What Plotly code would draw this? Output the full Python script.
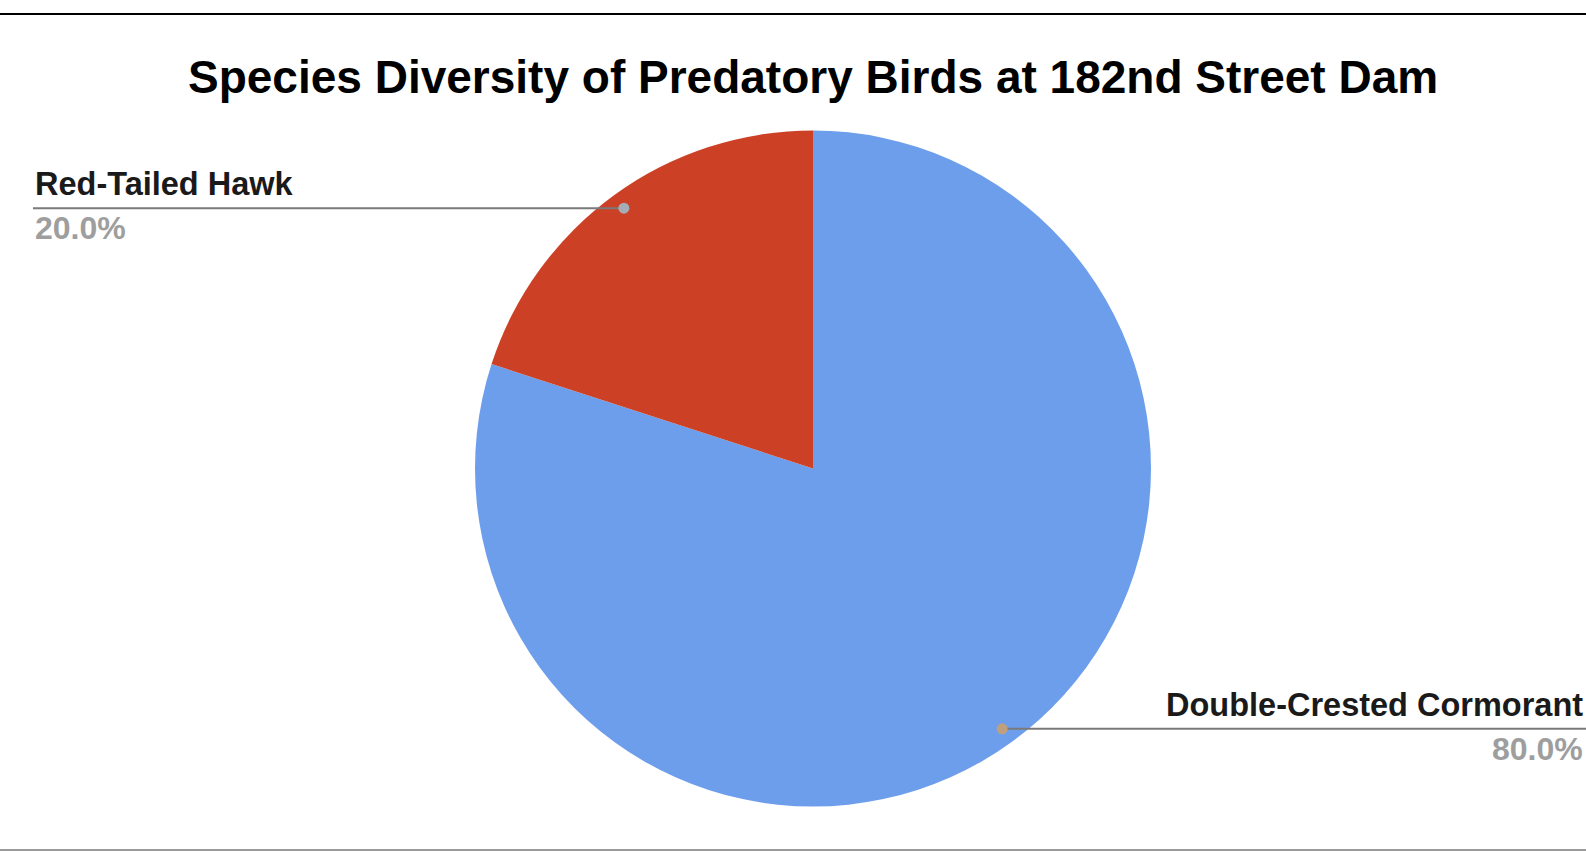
import math
import plotly.graph_objects as go

# ---- data ----
species = ["Red-Tailed Hawk", "Double-Crested Cormorant"]
counts = [20, 80]
colors = ["#cc4125", "#6d9eeb"]
title_text = "Species Diversity of Predatory Birds at 182nd Street Dam"

W, H = 1586, 851
FONT = "Arial, 'Liberation Sans', Helvetica, sans-serif"

# pie geometry (pixels)
cx, cy, R = 813, 468.5, 338

def px(x):
    return x / W

def py(y):
    return 1 - y / H

# slices run counterclockwise from 12 o'clock in the reference:
# drawn clockwise with reversed order gives the same layout
fig = go.Figure()
fig.add_trace(go.Pie(
    labels=species[::-1],
    values=counts[::-1],
    sort=False,
    direction="clockwise",
    rotation=0,
    marker=dict(colors=colors[::-1], line=dict(width=0)),
    textinfo="none",
    hoverinfo="label+percent",
    showlegend=False,
    domain=dict(x=[px(cx - R), px(cx + R)], y=[py(cy + R), py(cy - R)]),
))

total = sum(counts)
shapes = []
annotations = []

# frame lines from the screenshot
shapes.append(dict(type="line", xref="paper", yref="paper", x0=0, x1=1,
                   y0=py(14), y1=py(14), line=dict(color="#000000", width=2)))
shapes.append(dict(type="line", xref="paper", yref="paper", x0=0, x1=1,
                   y0=py(850), y1=py(850), line=dict(color="#9a9a9a", width=2)))

# leader lines / dots derived from slice mid-angles (counterclockwise from 12 o'clock)
cum = 0
dot_colors = ["#a4adb5", "#bfa07e"]
label_cfg = [
    dict(line_end=33, text_x=33, anchor="left"),
    dict(line_end=W + 5, text_x=1585, anchor="right"),
]
for i, v in enumerate(counts):
    mid = cum + v / 2
    cum += v
    ang = math.radians(90 + 360 * mid / total)
    dx = cx + 0.952 * R * math.cos(ang)
    dy = cy - 0.952 * R * math.sin(ang)
    cfg = label_cfg[i]
    shapes.append(dict(type="line", xref="paper", yref="paper",
                       x0=px(dx), x1=px(cfg["line_end"]), y0=py(dy), y1=py(dy),
                       line=dict(color="#7a7a7a", width=2)))
    shapes.append(dict(type="circle", xref="paper", yref="paper",
                       x0=px(dx - 5.5), x1=px(dx + 5.5), y0=py(dy + 5.5), y1=py(dy - 5.5),
                       fillcolor=dot_colors[i], line=dict(width=0)))
    pct = f"{100 * v / total:.1f}%"
    annotations.append(dict(xref="paper", yref="paper", x=px(cfg["text_x"]), y=py(dy - 24),
                            xanchor=cfg["anchor"], yanchor="middle", showarrow=False,
                            text=f"<b>{species[i]}</b>",
                            font=dict(family=FONT, size=32.5, color="#1a1a1a")))
    annotations.append(dict(xref="paper", yref="paper", x=px(cfg["text_x"]), y=py(dy + 20),
                            xanchor=cfg["anchor"], yanchor="middle", showarrow=False,
                            text=pct,
                            font=dict(family=FONT, size=32, color="#9e9e9e", weight=600)))

annotations.append(dict(xref="paper", yref="paper", x=px(813), y=py(76.5),
                        xanchor="center", yanchor="middle", showarrow=False,
                        text=f"<b>{title_text}</b>",
                        font=dict(family=FONT, size=46, color="#000000")))

fig.update_layout(
    width=W, height=H,
    margin=dict(l=0, r=0, t=0, b=0),
    paper_bgcolor="#ffffff",
    plot_bgcolor="#ffffff",
    shapes=shapes,
    annotations=annotations,
)

fig.write_html("out.html", config={"displayModeBar": False})
